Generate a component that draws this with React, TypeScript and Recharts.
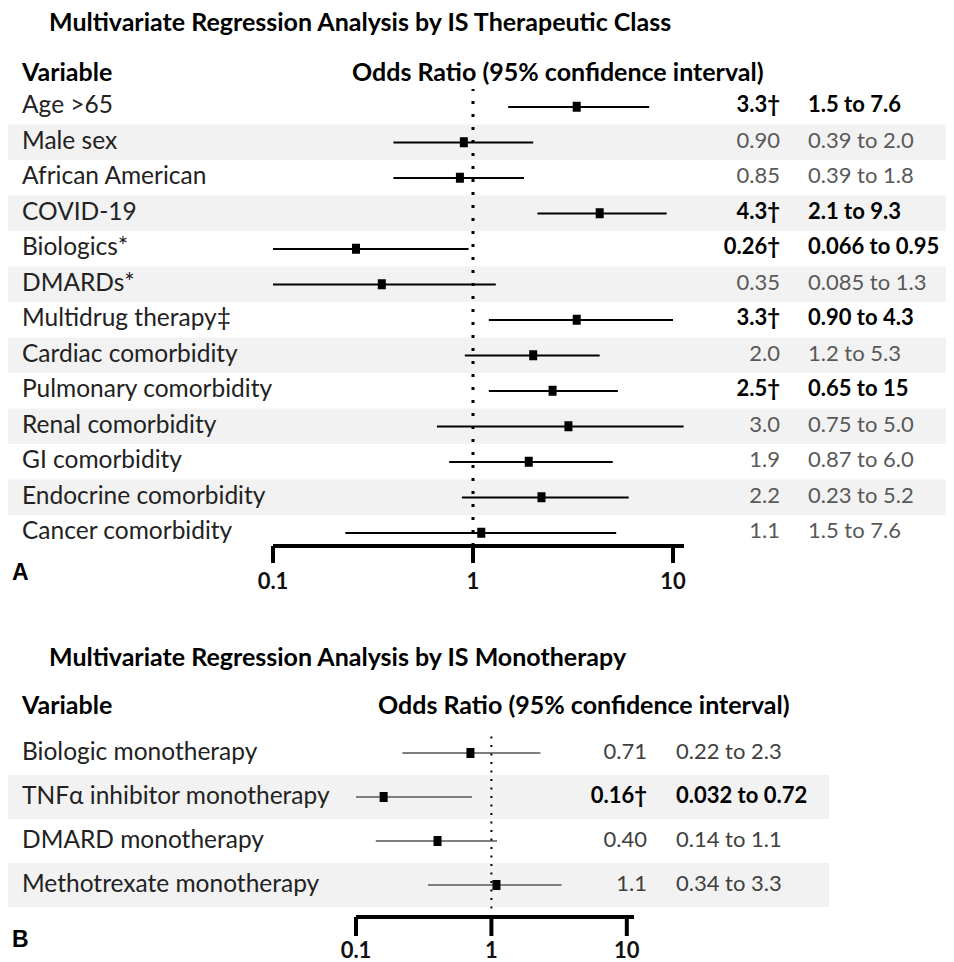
import React from 'react';
import { ComposedChart, Bar, Scatter, XAxis, YAxis, ReferenceLine, ReferenceArea } from 'recharts';

const FONT = 'Lato, "Noto Sans", sans-serif';

// panel A - IS therapeutic class
const classVars = ['Age >65', 'Male sex', 'African American', 'COVID-19', 'Biologics*', 'DMARDs*', 'Multidrug therapy‡',
  'Cardiac comorbidity', 'Pulmonary comorbidity', 'Renal comorbidity', 'GI comorbidity', 'Endocrine comorbidity', 'Cancer comorbidity'];
const classOr = [3.3, 0.9, 0.86, 4.3, 0.26, 0.35, 3.3, 2.0, 2.5, 3.0, 1.9, 2.2, 1.1];
const classLow = [1.5, 0.4, 0.4, 2.1, 0.1, 0.1, 1.2, 0.91, 1.2, 0.66, 0.76, 0.88, 0.23];
const classHigh = [7.6, 2.0, 1.8, 9.3, 0.95, 1.3, 10, 4.3, 5.3, 11.3, 5.0, 6.0, 5.2];
const classOrText = ['3.3†', '0.90', '0.85', '4.3†', '0.26†', '0.35', '3.3†', '2.0', '2.5†', '3.0', '1.9', '2.2', '1.1'];
const classCiText = ['1.5 to 7.6', '0.39 to 2.0', '0.39 to 1.8', '2.1 to 9.3', '0.066 to 0.95', '0.085 to 1.3', '0.90 to 4.3',
  '1.2 to 5.3', '0.65 to 15', '0.75 to 5.0', '0.87 to 6.0', '0.23 to 5.2', '1.5 to 7.6'];
const classSig = [true, false, false, true, true, false, true, false, true, false, false, false, false];

// panel B - IS monotherapy
const monoVars = ['Biologic monotherapy', 'TNFα inhibitor monotherapy', 'DMARD monotherapy', 'Methotrexate monotherapy'];
const monoOr = [0.7, 0.16, 0.4, 1.09];
const monoLow = [0.22, 0.1, 0.14, 0.34];
const monoHigh = [2.3, 0.72, 1.1, 3.3];
const monoOrText = ['0.71', '0.16†', '0.40', '1.1'];
const monoCiText = ['0.22 to 2.3', '0.032 to 0.72', '0.14 to 1.1', '0.34 to 3.3'];
const monoSig = [false, true, false, false];

const xTicks = [0.1, 1, 10];

const makeRows = (names, or, low, high) =>
  names.map((name, i) => ({ name, or: or[i], ci: [low[i], high[i]] }));

const Forest = (props) => {
  const { rows, orText, ciText, sig, width, height, top, leftW, rightW, padBottom, upper,
    bandRight, orDx, ciDx, lineColor, lineW, tickSize, tickFont, dash, dashW, valueColor } = props;
  const names = rows.map(r => r.name);

  const LeftTick = ({ y, payload }) => (
    <text x={14} y={y - 2} dy="0.35em" fontSize={24.5} fontFamily={FONT} fill="#222">{payload.value}</text>
  );
  const RightTick = ({ x, y, payload }) => {
    const i = names.indexOf(payload.value);
    const b = sig[i];
    return (
      <g fontSize={22} fontFamily={FONT} fontWeight={b ? 700 : 400} fill={b ? '#000' : valueColor}>
        <text x={x + orDx} y={y - 2} dy="0.35em" textAnchor="end">{orText[i]}</text>
        <text x={x + ciDx} y={y - 2} dy="0.35em">{ciText[i]}</text>
      </g>
    );
  };

  return (
    <ComposedChart layout="vertical" width={width} height={height} data={rows}
      margin={{ top, right: 0, bottom: 0, left: 0 }}>
      {names.filter((n, i) => i % 2 === 1).map(n => (
        <ReferenceArea key={n} yAxisId="left" y1={n} y2={n} ifOverflow="visible"
          shape={(p) => <rect x={0} y={p.y} width={bandRight} height={p.height} fill="#f2f2f2" />} />
      ))}
      <XAxis type="number" scale="log" domain={[0.1, upper]} ticks={xTicks} interval={0}
        tickFormatter={(v) => String(v)} height={props.axisH}
        axisLine={{ stroke: '#000', strokeWidth: 4 }} tickLine={{ stroke: '#000', strokeWidth: 4 }}
        tickSize={tickSize} tickMargin={props.tickMargin}
        tick={{ fontSize: tickFont, fontWeight: 700, fontFamily: FONT, fill: '#111' }} />
      <YAxis yAxisId="left" type="category" dataKey="name" width={leftW} interval={0}
        axisLine={false} tickLine={false} tickSize={0} tickMargin={0} padding={{ top: 0, bottom: padBottom }}
        tick={LeftTick} />
      <YAxis yAxisId="right" orientation="right" type="category" dataKey="name" width={rightW} interval={0}
        axisLine={false} tickLine={false} tickSize={0} tickMargin={0} padding={{ top: 0, bottom: padBottom }}
        tick={RightTick} />
      <ReferenceLine yAxisId="left" x={1} stroke="#000" strokeWidth={dashW} strokeDasharray={dash} />
      <Bar yAxisId="left" dataKey="ci" barSize={lineW} fill={lineColor} isAnimationActive={false} />
      <Scatter yAxisId="left" dataKey="or" isAnimationActive={false}
        shape={(p) => <rect x={p.cx - 4} y={p.cy - 5} width={8} height={10} fill="#000" />} />
    </ComposedChart>
  );
};

const abs = (left, top, size, weight, extra = {}) => ({
  position: 'absolute' as const, left, top, fontSize: size, fontWeight: weight, fontFamily: FONT,
  lineHeight: 1, whiteSpace: 'nowrap' as const, color: '#000', ...extra,
});

export default function App() {
  const rowsA = makeRows(classVars, classOr, classLow, classHigh);
  const rowsB = makeRows(monoVars, monoOr, monoLow, monoHigh);
  return (
    <div style={{ position: 'relative', width: 946, height: 954 }}>
      <div style={{ position: 'absolute', left: 0, top: 0 }}>
        <Forest rows={rowsA} orText={classOrText} ciText={classCiText} sig={classSig}
          width={946} height={593} top={81} leftW={265} rightW={270} padBottom={-4.5} upper={11.35}
          axisH={55} bandRight={946} orDx={96} ciDx={124} lineColor="#000" lineW={2}
          tickSize={17} tickMargin={10} tickFont={22} dash="3 10" dashW={3} valueColor="#595959" />
      </div>
      <div style={{ position: 'absolute', left: 0, top: 712 }}>
        <Forest rows={rowsB} orText={monoOrText} ciText={monoCiText} sig={monoSig}
          width={946} height={242} top={11} leftW={348} rightW={320} padBottom={10} upper={11.3}
          axisH={45} bandRight={821} orDx={13} ciDx={42} lineColor="#7f7f7f" lineW={2}
          tickSize={19} tickMargin={6} tickFont={22} dash="2 6.5" dashW={2} valueColor="#404040" />
      </div>

      <div style={abs(41, 1, 25, 700)}>Multivariate Regression Analysis by IS Therapeutic Class</div>
      <div style={abs(14, 51, 25, 700)}>Variable</div>
      <div style={abs(344, 51, 25, 700)}>Odds Ratio (95% confidence interval)</div>
      <div style={abs(4, 553, 23, 700, { fontFamily: 'Arial, "Liberation Sans", sans-serif' })}>A</div>

      <div style={abs(41, 636, 25, 700)}>Multivariate Regression Analysis by IS Monotherapy</div>
      <div style={abs(14, 684, 25, 700)}>Variable</div>
      <div style={abs(370, 684, 25, 700)}>Odds Ratio (95% confidence interval)</div>
      <div style={abs(4, 920, 23, 700, { fontFamily: 'Arial, "Liberation Sans", sans-serif' })}>B</div>
    </div>
  );
}
